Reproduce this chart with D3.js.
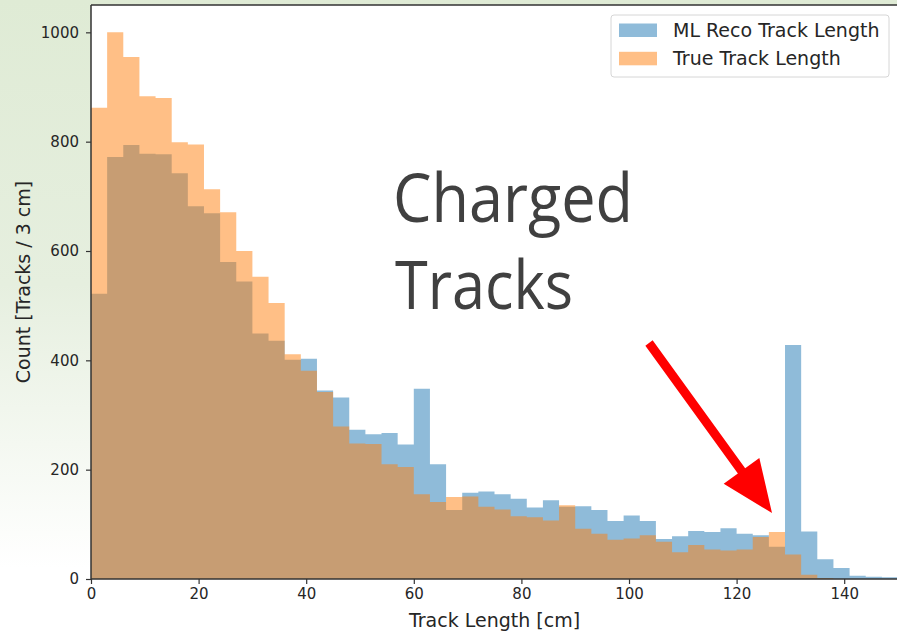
<!DOCTYPE html>
<html>
<head>
<meta charset="utf-8">
<script src="https://cdn.jsdelivr.net/npm/d3@7"></script>
<style>
  body { margin: 0; background: white; }
  svg { display: block; }
</style>
</head>
<body>
<div id="chart"></div>
<script>
// bin starts in cm, 3 cm wide bins
const binWidth = 3
const binStarts = d3.range(0, 150, binWidth)

// ML reco track length counts per bin
const recoCounts = [522, 772, 794, 778, 777, 742, 682, 669, 580, 544,
    449, 436, 401, 403, 345, 332, 273, 265, 267, 246,
    348, 210, 126, 158, 160, 155, 147, 131, 144, 132,
    133, 126, 106, 116, 106, 73, 78, 88, 86, 93,
    83, 80, 59, 428, 87, 36, 20, 6, 4, 3]

// true track length counts per bin
const trueCounts = [862, 1000, 955, 883, 880, 799, 795, 713, 671, 600,
    553, 505, 411, 381, 342, 279, 248, 247, 210, 205,
    155, 141, 150, 151, 132, 127, 115, 113, 107, 135,
    92, 83, 72, 74, 80, 68, 49, 62, 54, 52,
    54, 77, 86, 45, 8, 2, 0, 0, 0, 0]

const xTicks = [0, 20, 40, 60, 80, 100, 120, 140]
const yTicks = [0, 200, 400, 600, 800, 1000]
const seriesNames = ['ML Reco Track Length', 'True Track Length']
const seriesColors = ['#1f77b4', '#ff7f0e']

const W = 897, H = 631
const plot = { left: 91, right: 898, top: 5, bottom: 579 }

const svg = d3.select('#chart').append('svg')
    .attr('width', W).attr('height', H)

// slide background: green fading to white
const grad = svg.append('defs').append('linearGradient')
    .attr('id', 'bg').attr('x1', 0).attr('y1', 0).attr('x2', 0).attr('y2', 1)
grad.append('stop').attr('offset', '0%').attr('stop-color', '#dfebd5')
grad.append('stop').attr('offset', '45%').attr('stop-color', '#e6efdf')
grad.append('stop').attr('offset', '90%').attr('stop-color', '#ffffff')
svg.append('rect').attr('width', W).attr('height', H).attr('fill', 'url(#bg)')

svg.append('rect')
    .attr('x', plot.left).attr('y', plot.top)
    .attr('width', plot.right - plot.left).attr('height', plot.bottom - plot.top)
    .attr('fill', 'white')

const x = d3.scaleLinear().domain([0, 150]).range([plot.left, plot.right])
const y = d3.scaleLinear().domain([0, 1050]).range([plot.bottom, plot.top])

// each histogram as one stepped area so no seams between bins
const stepArea = d3.area()
    .x(d => x(d.x))
    .y0(y(0))
    .y1(d => y(d.v))
    .curve(d3.curveStepAfter)

const series = [recoCounts, trueCounts]
series.forEach((counts, si) => {
    let pts = counts.map((v, i) => ({ x: binStarts[i], v: v }))
    pts.push({ x: binStarts[counts.length - 1] + binWidth, v: counts[counts.length - 1] })
    svg.append('path')
        .datum(pts)
        .attr('d', stepArea)
        .attr('fill', seriesColors[si])
        .attr('fill-opacity', 0.5)
})

// axes
const font = 'DejaVu Sans, sans-serif'
const xAxis = svg.append('g')
    .attr('transform', 'translate(0,' + plot.bottom + ')')
    .call(d3.axisBottom(x).tickValues(xTicks).tickSize(5).tickPadding(4).tickFormat(d3.format('d')))
const yAxis = svg.append('g')
    .attr('transform', 'translate(' + plot.left + ',0)')
    .call(d3.axisLeft(y).tickValues(yTicks).tickSize(5).tickPadding(7).tickFormat(d3.format('d')))

;[xAxis, yAxis].forEach(ax => {
    ax.select('.domain').remove()
    ax.selectAll('line').attr('stroke', '#333').attr('stroke-width', 1.2)
    ax.selectAll('text').attr('fill', '#262626')
        .style('font-family', font).style('font-size', '15px')
})

// spines
svg.append('path')
    .attr('d', 'M' + plot.left + ',' + plot.top + 'H' + plot.right +
        'M' + plot.left + ',' + plot.top + 'V' + plot.bottom + 'H' + plot.right)
    .attr('fill', 'none').attr('stroke', '#333').attr('stroke-width', 1.5)

svg.append('text')
    .attr('x', (plot.left + plot.right) / 2).attr('y', 627)
    .attr('text-anchor', 'middle')
    .style('font-family', font).style('font-size', '19px').attr('fill', '#262626')
    .text('Track Length [cm]')

svg.append('text')
    .attr('transform', 'translate(30,' + 282 + ') rotate(-90)')
    .attr('text-anchor', 'middle')
    .style('font-family', font).style('font-size', '19px').attr('fill', '#262626')
    .text('Count [Tracks / 3 cm]')

// legend
const leg = svg.append('g')
leg.append('rect')
    .attr('x', 611).attr('y', 15).attr('width', 278).attr('height', 62).attr('rx', 3)
    .attr('fill', 'white').attr('stroke', '#d6d6d6').attr('stroke-width', 1)
seriesNames.forEach((name, i) => {
    leg.append('rect')
        .attr('x', 619).attr('y', 23.5 + i * 28.3).attr('width', 38).attr('height', 13.5)
        .attr('fill', seriesColors[i]).attr('fill-opacity', 0.5)
    leg.append('text')
        .attr('x', 673).attr('y', 36.5 + i * 28.3)
        .style('font-family', font).style('font-size', '19px').attr('fill', '#262626')
        .text(name)
})

// slide annotation
const note = svg.append('g')
    .style('font-family', 'Open Sans, sans-serif').style('font-size', '67px')
    .attr('fill', '#404040')
note.append('text').attr('x', 393).attr('y', 222)
    .attr('textLength', 240).attr('lengthAdjust', 'spacingAndGlyphs').text('Charged')
note.append('text').attr('x', 395).attr('y', 309)
    .attr('textLength', 178).attr('lengthAdjust', 'spacingAndGlyphs').text('Tracks')

// red arrow
const tail = [649, 343], tip = [772, 513]
const ang = Math.atan2(tip[1] - tail[1], tip[0] - tail[0])
const headLen = 52, headHalf = 22, shaftHalf = 4.5
const ux = Math.cos(ang), uy = Math.sin(ang)
const nx = -uy, ny = ux
const bx = tip[0] - ux * headLen, by = tip[1] - uy * headLen
const pts = [
    [tail[0] + nx * shaftHalf, tail[1] + ny * shaftHalf],
    [bx + nx * shaftHalf, by + ny * shaftHalf],
    [bx + nx * headHalf, by + ny * headHalf],
    tip,
    [bx - nx * headHalf, by - ny * headHalf],
    [bx - nx * shaftHalf, by - ny * shaftHalf],
    [tail[0] - nx * shaftHalf, tail[1] - ny * shaftHalf]
]
svg.append('polygon')
    .attr('points', pts.map(p => p.join(',')).join(' '))
    .attr('fill', '#ff0000')
</script>
</body>
</html>
